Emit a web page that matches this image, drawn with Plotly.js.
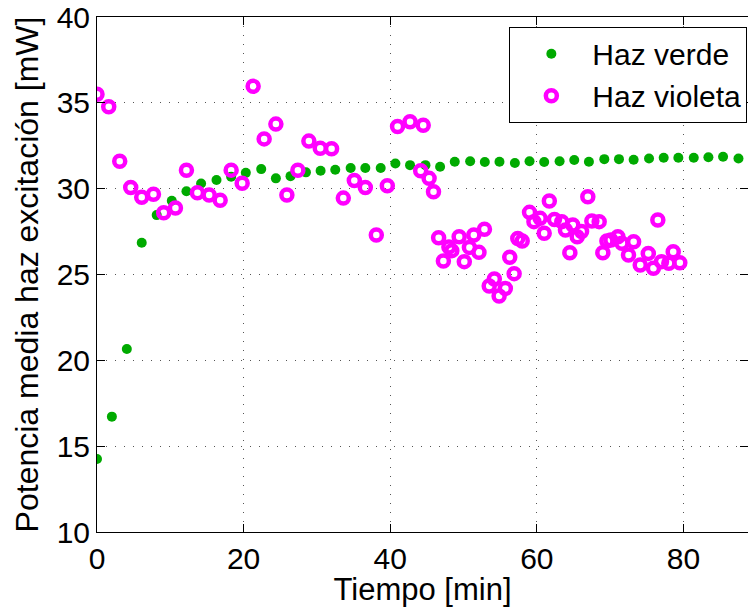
<!DOCTYPE html>
<html><head><meta charset="utf-8">
<script src="https://cdn.plot.ly/plotly-3.0.1.min.js"></script>
<style>html,body{margin:0;padding:0;background:#fff;} #chart{width:748px;height:607px;}</style>
</head><body><div id="chart"></div>
<script>
const greenTime = [0, 2.03, 4.07, 6.1, 8.14, 10.2, 12.2, 14.2, 16.3, 18.3, 20.3, 22.4, 24.4, 26.4, 28.5, 30.5, 32.5, 34.6, 36.6, 38.7, 40.7, 42.7, 44.8, 46.8, 48.8, 50.9, 52.9, 54.9, 57.0, 59.0, 61.0, 63.1, 65.1, 67.1, 69.2, 71.2, 73.2, 75.3, 77.3, 79.3, 81.4, 83.4, 85.4, 87.5];
const greenPower = [14.25, 16.72, 20.66, 26.85, 28.46, 29.3, 29.85, 30.3, 30.5, 30.7, 30.92, 31.14, 30.6, 30.73, 30.95, 31.04, 31.1, 31.2, 31.2, 31.2, 31.47, 31.37, 31.37, 31.28, 31.57, 31.6, 31.55, 31.57, 31.5, 31.6, 31.55, 31.6, 31.67, 31.57, 31.72, 31.72, 31.68, 31.76, 31.8, 31.8, 31.8, 31.83, 31.86, 31.76];
const violetTime = [0.0, 1.6, 3.1, 4.6, 6.1, 7.7, 9.1, 10.7, 12.2, 13.7, 15.3, 16.8, 18.3, 19.8, 21.3, 22.8, 24.4, 25.9, 27.4, 28.9, 30.45, 32.0, 33.6, 35.1, 36.6, 38.1, 39.6, 41.0, 42.7, 44.5, 44.15, 45.3, 45.9, 46.6, 47.25, 48.0, 48.4, 49.4, 50.1, 50.8, 51.4, 52.1, 52.85, 53.5, 54.2, 54.85, 55.7, 56.3, 56.9, 57.4, 58.0, 59.0, 59.6, 60.45, 61.0, 61.7, 62.4, 63.4, 63.9, 64.5, 64.9, 65.5, 66.1, 66.95, 67.5, 68.5, 69.0, 69.55, 70.1, 71.05, 71.6, 72.5, 73.2, 74.1, 75.2, 75.9, 76.5, 77.0, 78.0, 78.6, 79.5];
const violetPower = [35.5, 34.77, 31.6, 30.07, 29.5, 29.68, 28.6, 28.87, 31.07, 29.76, 29.63, 29.32, 31.08, 30.31, 35.96, 32.9, 33.76, 29.63, 31.07, 32.77, 32.36, 32.32, 29.45, 30.48, 30.07, 27.3, 30.17, 33.62, 33.9, 33.7, 31.04, 30.6, 29.82, 27.14, 25.79, 26.6, 26.39, 27.2, 25.75, 26.58, 27.3, 26.29, 27.63, 24.33, 24.74, 23.75, 24.19, 26.0, 25.05, 27.1, 26.95, 28.62, 28.08, 28.27, 27.4, 29.28, 28.21, 28.08, 27.59, 26.27, 27.88, 27.2, 27.5, 29.53, 28.12, 28.08, 26.27, 26.95, 27.01, 27.2, 26.82, 26.14, 26.91, 25.55, 26.23, 25.36, 28.17, 25.75, 25.65, 26.33, 25.69];
const xTicks = [0, 20, 40, 60, 80];
const yTicks = [10, 15, 20, 25, 30, 35, 40];

const FONT = 'Liberation Sans, Arial, Helvetica, sans-serif';
const traces = [
  {x: greenTime, y: greenPower, type: 'scatter', mode: 'markers', name: 'Haz verde', legendgroup: 'g',
   marker: {color: '#00aa00', size: 10, symbol: 'circle', line: {width: 0}}},
  {x: violetTime, y: violetPower, type: 'scatter', mode: 'markers', name: 'Haz violeta', legendgroup: 'v',
   marker: {color: '#ff00ff', size: 11, symbol: 'circle-open', line: {width: 4.5, color: '#ff00ff'}}}
];
const axisCommon = {
  showline: true, linecolor: '#000', linewidth: 1, mirror: 'ticks',
  ticks: 'inside', ticklen: 8, tickcolor: '#000', tickwidth: 1,
  showgrid: true, gridcolor: '#555', gridwidth: 1, griddash: '1px,8px',
  zeroline: false, tickfont: {family: FONT, size: 30, color: '#000'}
};
const layout = {
  width: 748, height: 607,
  margin: {l: 97, r: 0, t: 17, b: 75, pad: 0},
  paper_bgcolor: '#fff', plot_bgcolor: '#fff',
  font: {family: FONT, color: '#000'},
  showlegend: true,
  xaxis: Object.assign({}, axisCommon, {
    range: [0, 88.8], tickvals: xTicks, ticktext: xTicks.map(String),
    title: {text: 'Tiempo [min]', font: {family: FONT, size: 31, color: '#000'}, standoff: 3}
  }),
  yaxis: Object.assign({}, axisCommon, {
    range: [10, 40], tickvals: yTicks, ticktext: yTicks.map(String),
    title: {text: 'Potencia media haz excitación [mW]', font: {family: FONT, size: 32, color: '#000'}, standoff: 8}
  }),
  legend: {
    x: 0.999, xanchor: 'right', y: 0.981, yanchor: 'top',
    bgcolor: '#fff', bordercolor: '#000', borderwidth: 1,
    font: {family: FONT, size: 30, color: '#000'},
    traceorder: 'grouped', tracegroupgap: 0, itemwidth: 72
  }
};
Plotly.newPlot('chart', traces, layout, {displayModeBar: false, staticPlot: true});
</script>
</body></html>
